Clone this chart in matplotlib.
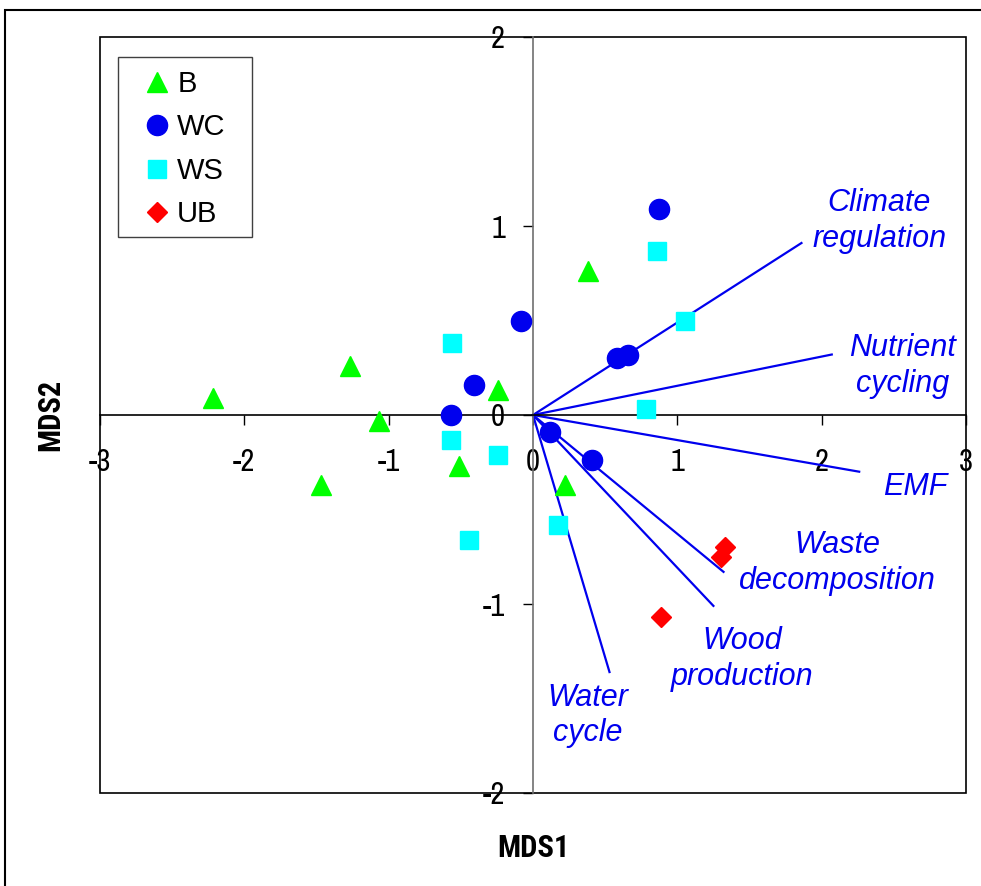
import matplotlib
matplotlib.use("Agg")
import matplotlib.pyplot as plt
from matplotlib.patches import Rectangle
from matplotlib.font_manager import FontProperties

# ---- data ----
B_x = [-2.22, -1.27, -1.07, -1.47, -0.51, -0.24, 0.38, 0.22]
B_y = [0.09, 0.26, -0.03, -0.37, -0.27, 0.13, 0.76, -0.37]
WC_x = [-0.08, -0.41, -0.57, 0.87, 0.58, 0.66, 0.12, 0.41]
WC_y = [0.50, 0.16, 0.00, 1.09, 0.30, 0.32, -0.09, -0.24]
WS_x = [-0.56, -0.57, -0.24, -0.44, 0.86, 1.05, 0.78, 0.17]
WS_y = [0.38, -0.13, -0.21, -0.66, 0.87, 0.50, 0.03, -0.58]
UB_x = [1.33, 1.30, 0.89]
UB_y = [-0.70, -0.75, -1.07]

vec_names = ["Climate\nregulation", "Nutrient\ncycling", "EMF",
             "Waste\ndecomposition", "Wood\nproduction", "Water\ncycle"]
vec_x = [1.86, 2.07, 2.26, 1.32, 1.25, 0.53]
vec_y = [0.91, 0.32, -0.30, -0.83, -1.01, -1.36]
# label centres (data coords)
lab_x = [2.40, 2.56, 2.65, 2.11, 1.45, 0.38]
lab_y = [1.025, 0.26, -0.38, -0.785, -1.29, -1.59]

xticks = [-3, -2, -1, 0, 1, 2, 3]
yticks = [-2, -1, 0, 1, 2]

narrow = ["Liberation Sans Narrow", "Archivo Narrow", "DejaVu Sans"]
narrow_bold = ["Liberation Sans Narrow", "Roboto Condensed", "Barlow Semi Condensed", "DejaVu Sans"]
arial = ["Liberation Sans", "Arimo", "DejaVu Sans"]

fig = plt.figure(figsize=(9.81, 8.86), dpi=100)
ax = fig.add_axes([100/981, 1-793/886, 866/981, 756/886])
ax.set_xlim(-3, 3)
ax.set_ylim(-2, 2)

# outer figure frame (left and top visible)
fig.patches.append(Rectangle((5/981, -0.2), 1.2, 1.2 - 10/886,
                             transform=fig.transFigure, fill=False,
                             edgecolor="black", linewidth=1.5))

# axes box
ax.add_patch(Rectangle((0, 0), 1, 1, transform=ax.transAxes, fill=False,
                       edgecolor="black", linewidth=1.2, clip_on=False, zorder=1))

for s in ["top", "right"]:
    ax.spines[s].set_visible(False)
ax.spines["bottom"].set_position(("data", 0))
ax.spines["left"].set_position(("data", 0))
ax.spines["bottom"].set_color("black")
ax.spines["left"].set_color("#707070")
ax.spines["bottom"].set_linewidth(1.2)
ax.spines["left"].set_linewidth(1.2)

ax.set_xticks(xticks)
ax.set_yticks(yticks)
ax.set_xticklabels([str(t) for t in xticks])
ax.set_yticklabels([str(t) for t in yticks])
ax.tick_params(axis="x", direction="out", length=7, width=1, pad=17, labelsize=22)
ax.tick_params(axis="y", direction="out", length=7, width=1, pad=13, labelsize=22)
for lab in ax.get_xticklabels() + ax.get_yticklabels():
    lab.set_family(narrow)

# vectors
for vx, vy in zip(vec_x, vec_y):
    ax.plot([0, vx], [0, vy], color="#0000ee", linewidth=1.6, zorder=2, clip_on=False)
for name, tx, ty in zip(vec_names, lab_x, lab_y):
    ax.text(tx, ty, name, color="#0000ee", fontsize=22, style="italic",
            family=arial, ha="center", va="center", linespacing=1.25)

# points
ax.plot(B_x, B_y, linestyle="none", marker="^", markersize=15,
        color="#00ff00", label="B", zorder=3)
ax.plot(WC_x, WC_y, linestyle="none", marker="o", markersize=14.5,
        color="#0000ee", label="WC", zorder=3)
ax.plot(WS_x, WS_y, linestyle="none", marker="s", markersize=13,
        color="#00ffff", label="WS", zorder=3)
ax.plot(UB_x, UB_y, linestyle="none", marker="D", markersize=10.5,
        color="#ff0000", label="UB", zorder=3)

# legend (frame drawn separately to match the wide side padding)
leg = ax.legend(loc="upper left", bbox_to_anchor=((142.5 - 100) / 866, 1 - (70 - 37) / 756),
                prop=FontProperties(family=arial, size=21), frameon=False,
                handlelength=1.0, handletextpad=0.19, labelspacing=0.53,
                borderpad=0, borderaxespad=0)
ax.add_patch(Rectangle(((118 - 100) / 866, (793 - 237) / 756), 134 / 866, 180 / 756,
                       transform=ax.transAxes, fill=False, edgecolor="#404040",
                       linewidth=1.0, zorder=4))

fig.text(533/981, 1-848/886, "MDS1", fontsize=22, fontweight="bold",
         family=narrow_bold, ha="center", va="center")
fig.text(50/981, 1-415/886, "MDS2", fontsize=22, fontweight="bold",
         family=narrow_bold, ha="center", va="center", rotation=90)

fig.savefig("out.png", dpi=100)
